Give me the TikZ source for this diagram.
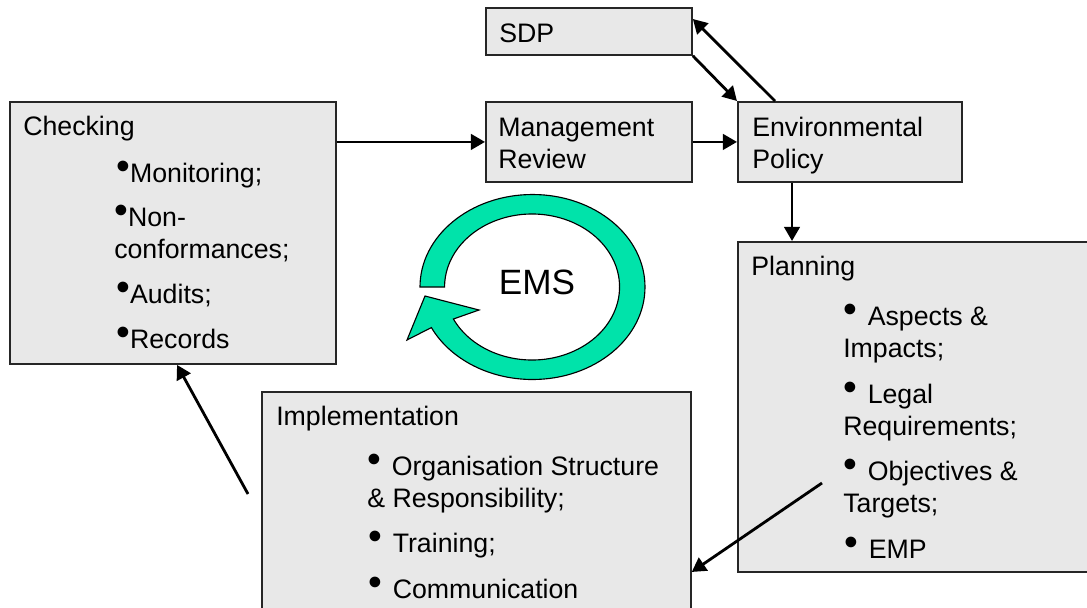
\documentclass[tikz,border=0pt]{standalone}
\usepackage{fontspec}
\setmainfont{Liberation Sans}
\usepackage{xcolor}
\usepackage{tikz}
\usetikzlibrary{arrows.meta}
\definecolor{boxgray}{RGB}{232,232,232}
\definecolor{emsgreen}{RGB}{0,227,170}
\newcommand{\bul}{\raisebox{0.1em}{\fontsize{28}{0}\selectfont\textbullet}}
\newcommand{\itm}{\bul\hspace{0.4em}}
\newcommand{\itmc}{\bul}
\begin{document}
\begin{tikzpicture}[x=0.025cm,y=-0.025cm,>={Triangle[length=10pt,width=11pt]}]
		\useasboundingbox (0,0) rectangle (1087,607);
		\clip (0,0) rectangle (1087,607);
		\tikzstyle{box}=[draw=black!85,line width=1.3pt,fill=boxgray,anchor=north west,inner sep=0pt]
		\tikzstyle{txt}=[anchor=base west,inner sep=0pt,align=left,font=\fontsize{19}{22.7}\selectfont]
		% boxes
		\node[box,minimum width=5.15cm,minimum height=1.175cm] (sdp) at (485,7) {};
		\node[box,minimum width=5.15cm,minimum height=2.0cm] (mgmt) at (485,101) {};
		\node[box,minimum width=5.6cm,minimum height=2.0cm] (env) at (737,101) {};
		\node[box,minimum width=8.15cm,minimum height=6.55cm] (chk) at (9,101) {};
		\node[box,minimum width=9.5cm,minimum height=8.25cm] (plan) at (737,241) {};
		\node[box,minimum width=10.72cm,minimum height=6.5cm] (impl) at (261,391) {};
		% texts (base = last line)
		\node[txt] (sdpT) at (499,42) {SDP};
		\node[txt] (mgmtT) at (498,168) {Management\\Review};
		\node[txt] (envT) at (752,168) {Environmental\\Policy};
		\node[txt] (chkT) at (23,135) {Checking};
		\node[txt] (chk1) at (116,182) {\itmc Monitoring;};
		\node[txt] (chk2) at (114,258) {\itmc Non-\\conformances;};
		\node[txt] (chk3) at (116,303) {\itmc Audits;};
		\node[txt] (chk4) at (116,348) {\itmc Records};
		\node[txt] (planT) at (751,275) {Planning};
		\node[txt] (plan1) at (843,357) {\itm Aspects \&\\Impacts;};
		\node[txt] (plan2) at (843,435) {\itm Legal\\Requirements;};
		\node[txt] (plan3) at (843,512) {\itm Objectives \&\\Targets;};
		\node[txt] (plan4) at (844,558) {\itm EMP};
		\node[txt] (implT) at (276,425) {Implementation};
		\node[txt] (impl1) at (367,507) {\itm Organisation Structure\\\& Responsibility;};
		\node[txt] (impl2) at (368,552) {\itm Training;};
		\node[txt] (impl3) at (368,598) {\itm Communication};
		% EMS cycle
		\draw[fill=emsgreen,line width=0.8pt]
		(420,287) arc[start angle=180,end angle=514,x radius=112.5,y radius=92.5]
		-- (407,340) -- (425,296) -- (479,310) -- (453.4,319)
		arc[start angle=514,end angle=180,x radius=87.5,y radius=73] -- cycle;
		\node[font=\fontsize{25}{30}\selectfont] (ems) at (537,282) {EMS};
		% connectors
		\coordinate (objtail) at (822,483);
		\coordinate (impltail) at (248,494);
		\tikzstyle{every edge}+=[->,line width=2pt]
		\draw
		(chk.east |- mgmt.west) edge (mgmt.west)
		(mgmt.east) edge (env.west)
		(sdp.south east) edge (env.north west)
		([xshift=0.95cm]env.north west) edge ([yshift=-0.3cm]sdp.north east)
		([xshift=1.375cm]env.south west) edge ([xshift=1.375cm]env.south west |- plan.north)
		(objtail) edge ([yshift=-1.25cm]impl.east)
		(impltail) edge ([xshift=4.2cm]chk.south west)
		;
	\end{tikzpicture}
\end{document}
